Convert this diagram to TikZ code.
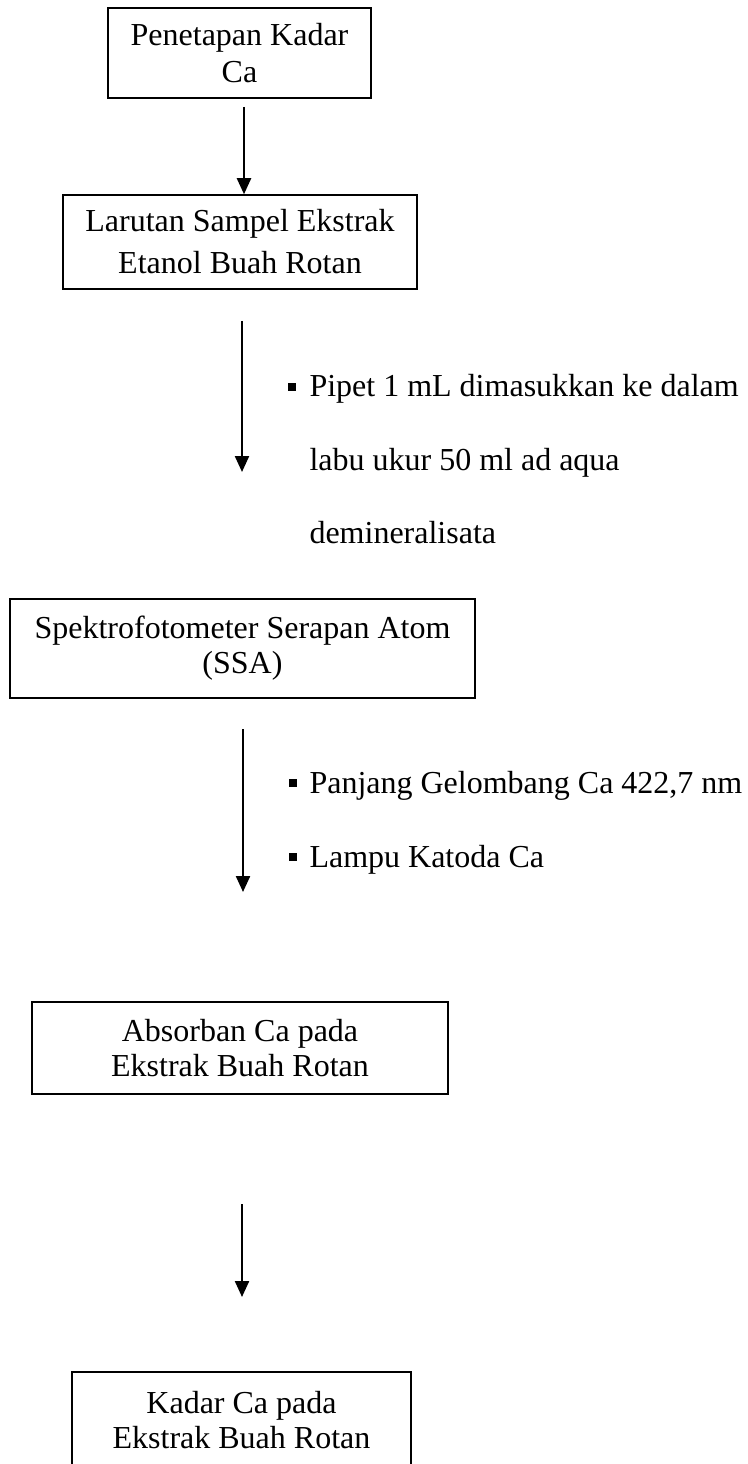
\documentclass[tikz,border=0pt]{standalone}
\usepackage{fontspec}
\setmainfont{Liberation Serif}
\usetikzlibrary{arrows.meta}
\begin{document}
\begin{tikzpicture}[x=0.4pt,y=-0.4pt,
  stepbox/.style={draw,line width=0.6pt,inner sep=0pt,align=center,
    font=\fontsize{12.8pt}{14pt}\selectfont},
  flow/.style={line width=0.9pt,-{Triangle[width=5.6pt,length=6.4pt]}},
  note/.style={anchor=base west,inner sep=0pt,font=\fontsize{12.8pt}{14pt}\selectfont},
  sq/.style={fill=black,inner sep=0pt,minimum size=3.2pt}]
\useasboundingbox (0,0) rectangle (747,1464);
\clip (0,0) rectangle (747,1464);

% process boxes
\node[stepbox,minimum width=105.2pt,minimum height=36pt,
  font=\fontsize{12.8pt}{14.8pt}\selectfont] (b1) at (239.5,53) {Penetapan Kadar\\Ca};
\node[stepbox,minimum width=141.6pt,minimum height=37.6pt,
  font=\fontsize{12.8pt}{16.8pt}\selectfont] (b2) at (240,242) {Larutan Sampel Ekstrak\\Etanol Buah Rotan};
\node[stepbox,minimum width=186pt,minimum height=39.6pt] (b3) at (242.5,648.5) {Spektrofotometer Serapan Atom\\(SSA)};
\node[stepbox,minimum width=166.4pt,minimum height=36.8pt] (b4) at (240,1048) {Absorban Ca pada\\Ekstrak Buah Rotan};
\node[stepbox,minimum width=135.6pt,minimum height=38.4pt] (b5) at (241.5,1420) {Kadar Ca pada\\Ekstrak Buah Rotan};

% arrow end points
\coordinate (a1s) at (244,107);
\coordinate (a2s) at (242,321);
\coordinate (a2e) at (242,472);
\coordinate (a3s) at (243,729);
\coordinate (a3e) at (243,892);
\coordinate (a4s) at (242,1204);
\coordinate (a4e) at (242,1297);

\draw[flow] (a1s) -- (a1s |- b2.north);
\draw[flow] (a2s) -- (a2e);
\draw[flow] (a3s) -- (a3e);
\draw[flow] (a4s) -- (a4e);

% procedure notes
\node[sq] (m1) at (292,387) {};
\node[note] (t1) at (309,397) {Pipet 1 mL dimasukkan ke dalam};
\node[note] (t2) at (309,470) {labu ukur 50 ml ad aqua};
\node[note] (t3) at (309,543) {demineralisata};

\node[sq] (m2) at (293,783) {};
\node[note] (t4) at (309,793) {Panjang Gelombang Ca 422,7 nm};
\node[sq] (m3) at (293,857) {};
\node[note] (t5) at (309,867) {Lampu Katoda Ca};
\end{tikzpicture}
\end{document}
